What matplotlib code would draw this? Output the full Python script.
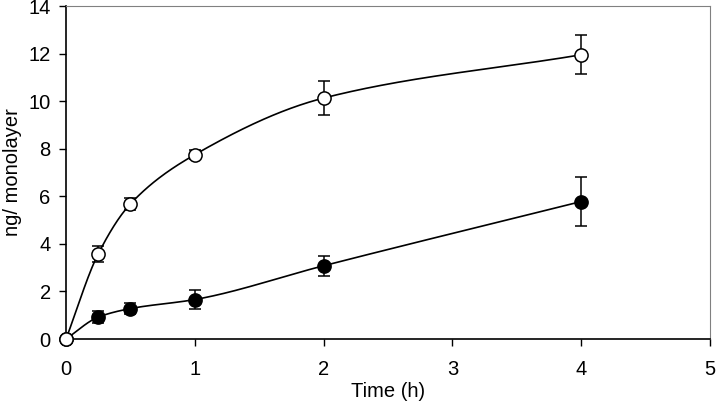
import matplotlib
matplotlib.use("Agg")
import matplotlib.pyplot as plt
import numpy as np

plt.rcParams['font.family'] = ['Liberation Sans', 'DejaVu Sans']

# data
time_h = [0, 0.25, 0.5, 1, 2, 4]
open_vals = [0.0, 3.58, 5.68, 7.75, 10.13, 11.95]
open_err = [0.0, 0.33, 0.26, 0.2, 0.7, 0.82]
filled_vals = [0.0, 0.92, 1.28, 1.66, 3.08, 5.78]
filled_err = [0.0, 0.25, 0.22, 0.4, 0.42, 1.02]
xticks = [0, 1, 2, 3, 4, 5]
yticks = [0, 2, 4, 6, 8, 10, 12, 14]


def pchip(x, y, n=400):
    # monotone cubic through the points, to mimic the smoothed line
    x = np.asarray(x, float)
    y = np.asarray(y, float)
    h = np.diff(x)
    d = np.diff(y) / h
    m = np.zeros_like(y)
    for k in range(1, len(x) - 1):
        if d[k - 1] * d[k] > 0:
            w1 = 2 * h[k] + h[k - 1]
            w2 = h[k] + 2 * h[k - 1]
            m[k] = (w1 + w2) / (w1 / d[k - 1] + w2 / d[k])
    m[0] = d[0]
    m[-1] = d[-1]
    xs = np.linspace(x[0], x[-1], n)
    idx = np.clip(np.searchsorted(x, xs) - 1, 0, len(x) - 2)
    t = (xs - x[idx]) / h[idx]
    h00 = 2 * t**3 - 3 * t**2 + 1
    h10 = t**3 - 2 * t**2 + t
    h01 = -2 * t**3 + 3 * t**2
    h11 = t**3 - t**2
    ys = h00 * y[idx] + h10 * h[idx] * m[idx] + h01 * y[idx + 1] + h11 * h[idx] * m[idx + 1]
    return xs, ys


fig = plt.figure(figsize=(7.16, 4.09), dpi=100)
ax = fig.add_axes([0.0922, 0.1711, 0.8994, 0.8142])

for vals, err, face in [(filled_vals, filled_err, 'black'), (open_vals, open_err, 'white')]:
    xs, ys = pchip(time_h, vals)
    ax.plot(xs, ys, color='black', lw=1.2, zorder=2)
    ax.errorbar(time_h, vals, yerr=err, fmt='none', ecolor='black',
                elinewidth=1.1, capsize=4.3, capthick=1.1, zorder=3)
    ax.plot(time_h, vals, 'o', ms=9.5, mfc=face, mec='black', mew=1.1, zorder=4)

ax.set_xlim(0, 5)
ax.set_ylim(0, 14)
ax.set_xticks(xticks)
ax.set_yticks(yticks)
ax.tick_params(direction='out', length=5, width=1, labelsize=14.5, pad=6)
ax.tick_params(axis='x', pad=10)
ax.spines['top'].set_color('#808080')
ax.spines['right'].set_color('#808080')
for s in ['left', 'bottom']:
    ax.spines[s].set_linewidth(1.2)
ax.set_xlabel('Time (h)', fontsize=14.5, labelpad=2)
ax.set_ylabel('ng/ monolayer', fontsize=14.5, va='center')
ax.yaxis.set_label_coords(-0.083, 0.5)

for line in ax.get_lines():
    line.set_clip_on(False)

fig.savefig('out.png', dpi=100)
